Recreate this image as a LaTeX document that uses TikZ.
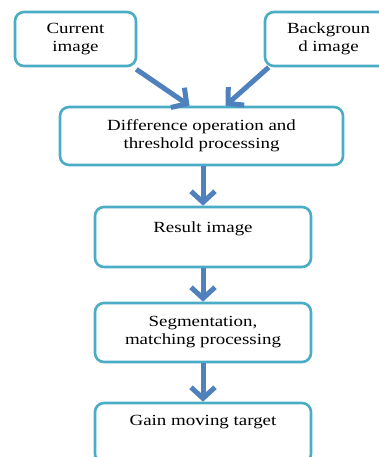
\documentclass[tikz,border=0pt]{standalone}
\usepackage{fontspec}
\setmainfont{Liberation Serif}[FakeStretch=1.22]
\usetikzlibrary{arrows.meta,positioning}
\definecolor{boxline}{RGB}{75,172,198}
\definecolor{flowblue}{RGB}{79,129,189}

\begin{document}
\begin{tikzpicture}[x=1pt,y=-1pt,font=\fontsize{15.5pt}{18pt}\selectfont,
  stepbox/.style={draw=boxline,line width=2.6pt,rounded corners=9pt,fill=white,align=center,inner sep=4pt},
  flow/.style={draw=flowblue,line width=5pt,-{Straight Barb[length=11pt,width=24pt,line width=5pt]}}]
\useasboundingbox (0,0) rectangle (378,457);
\node[stepbox,minimum width=121pt,minimum height=54pt] (cur) at (75.5,39) {Current\\image};
\node[stepbox,minimum width=127pt,minimum height=54pt] (bg) at (328.5,39) {Backgroun\\d image};
\node[stepbox,minimum width=283pt,minimum height=58pt] (diff) at (201.5,136) {Difference operation and\\threshold processing};
\node[stepbox,minimum width=216pt,minimum height=60pt,text height=21pt,text depth=31pt] (res) at (203,237) {Result image};
\node[stepbox,minimum width=216pt,minimum height=59pt] (seg) at (203,332.5) {Segmentation,\\matching processing};
\node[stepbox,minimum width=216pt,minimum height=60pt,text height=18pt,text depth=34pt] (gain) at (203,433) {Gain moving target};
\draw[flow] ([xshift=-1pt,yshift=-2pt]cur.south east) -- ([xshift=-12pt]diff.north);
\draw[flow] ([xshift=5pt]bg.south west) -- ([xshift=24pt]diff.north);
\draw[flow] (res.north |- diff.south) -- (res.north);
\draw[flow] (res.south) -- (seg.north);
\draw[flow] (seg.south) -- (gain.north);
\end{tikzpicture}
\end{document}
